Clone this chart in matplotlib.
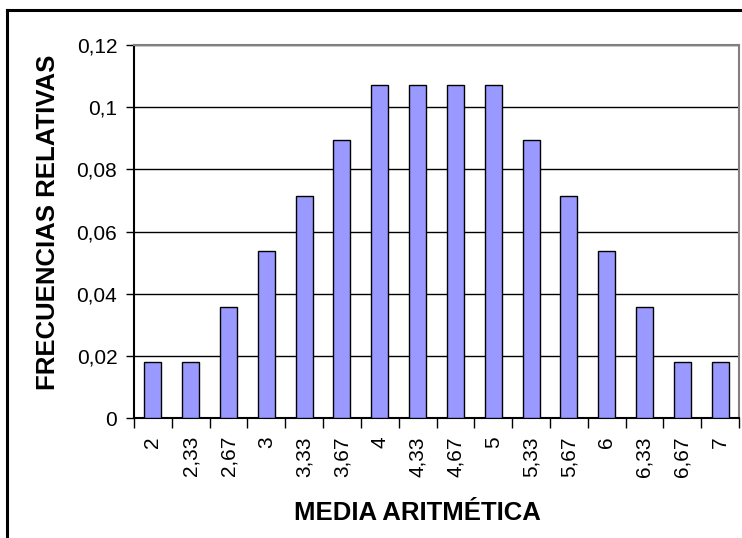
import matplotlib
matplotlib.use("Agg")
import matplotlib.pyplot as plt
import numpy as np

plt.rcParams['font.family'] = ['Liberation Sans', 'DejaVu Sans']

# sample means and their relative frequencies (counts over 56 samples)
medias = ["2", "2,33", "2,67", "3", "3,33", "3,67", "4", "4,33",
          "4,67", "5", "5,33", "5,67", "6", "6,33", "6,67", "7"]
conteos = [1, 1, 2, 3, 4, 5, 6, 6, 6, 6, 5, 4, 3, 2, 1, 1]
frecuencias = [c / 56 for c in conteos]

y_ticks = [0, 0.02, 0.04, 0.06, 0.08, 0.1, 0.12]
y_tick_labels = ["0", "0,02", "0,04", "0,06", "0,08", "0,1", "0,12"]

fig = plt.figure(figsize=(7.42, 5.38), dpi=100)
W, H = 742, 538

# outer chart frame (only top and left edges fall inside the image)
fig.add_artist(plt.Line2D([7 / W, 7 / W], [0, 1 - 10 / H], color='black', lw=2.2))
fig.add_artist(plt.Line2D([7 / W, 1], [1 - 10 / H, 1 - 10 / H], color='black', lw=2.2))

ax = fig.add_axes([134 / W, 1 - 418 / H, (739 - 134) / W, (418 - 45) / H])

x = np.arange(len(medias))
ax.bar(x, frecuencias, width=0.45, color='#9999ff', edgecolor='black', linewidth=1, zorder=3)

ax.set_xlim(-0.5, len(medias) - 0.5)
ax.set_ylim(0, 0.12)
ax.set_yticks(y_ticks)
ax.set_yticklabels(y_tick_labels, fontsize=15)
ax.yaxis.grid(True, color='black', linewidth=1, zorder=0)

# ticks at category boundaries, labels centred under the bars
ax.set_xticks(np.arange(len(medias) + 1) - 0.5)
ax.set_xticklabels([])
ax.set_xticks(x, minor=True)
ax.set_xticklabels(medias, minor=True, rotation=90, fontsize=15, va='top', ha='center')
ax.tick_params(axis='x', which='major', direction='out', length=7, width=1)
ax.tick_params(axis='x', which='minor', length=0, pad=13)
ax.tick_params(axis='y', direction='out', length=6, width=1, pad=6)

ax.spines['left'].set_color('black')
ax.spines['bottom'].set_color('black')
ax.spines['top'].set_color('#808080')
ax.spines['right'].set_color('#808080')
for s in ax.spines.values():
    s.set_linewidth(1.5)

fig.text(48 / W, 1 - 222 / H, "FRECUENCIAS RELATIVAS", rotation=90, fontsize=18.5,
         fontweight='bold', ha='center', va='center')
fig.text(417 / W, 1 - 513 / H, "MEDIA ARITMÉTICA", fontsize=18.5,
         fontweight='bold', ha='center', va='center')

fig.savefig("out.png", dpi=100)
